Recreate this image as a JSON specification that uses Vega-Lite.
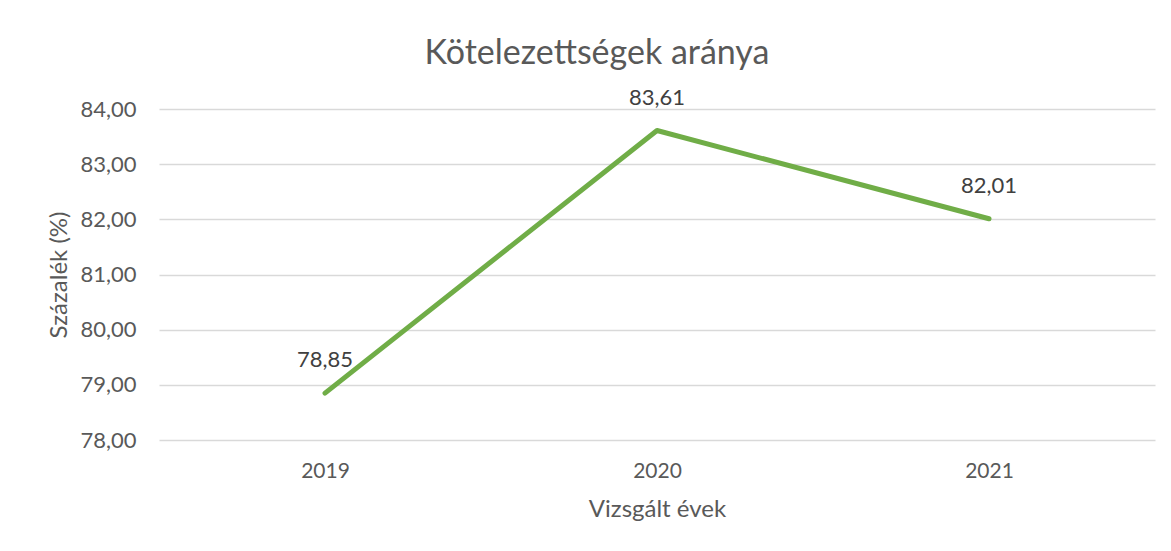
{
  "$schema": "https://vega.github.io/schema/vega-lite/v6.json",
  "autosize": {"type": "none"},
  "width": 996,
  "height": 331,
  "padding": {"left": 159, "top": 109, "right": 16, "bottom": 111},
  "background": "white",
  "config": {
    "locale": {"number": {"decimal": ",", "thousands": " ", "grouping": [3], "currency": ["", " Ft"]}},
    "font": "Lato",
    "view": {"stroke": null}
  },
  "title": {
    "text": "Kötelezettségek aránya",
    "fontSize": 34,
    "fontWeight": "normal",
    "color": "#595959",
    "font": "Lato",
    "anchor": "middle",
    "dx": -60,
    "offset": 16
  },
  "data": {
    "values": [
      {"ev": "2019", "ertek": 78.85},
      {"ev": "2020", "ertek": 83.61},
      {"ev": "2021", "ertek": 82.01}
    ]
  },
  "encoding": {
    "x": {
      "field": "ev",
      "type": "ordinal",
      "scale": {"type": "point", "padding": 0.5},
      "axis": {
        "title": "Vizsgált évek",
        "titleFontSize": 24,
        "titleFontWeight": "normal",
        "titleColor": "#595959",
        "titlePadding": 16,
        "labelFontSize": 21,
        "labelColor": "#595959",
        "labelAngle": 0,
        "labelPadding": 20,
        "domain": false,
        "ticks": false,
        "grid": false
      }
    },
    "y": {
      "field": "ertek",
      "type": "quantitative",
      "scale": {"domain": [78, 84], "nice": false, "zero": false},
      "axis": {
        "title": "Százalék (%)",
        "titleFontSize": 24,
        "titleFontWeight": "normal",
        "titleColor": "#595959",
        "titlePadding": 8,
        "values": [78, 79, 80, 81, 82, 83, 84],
        "format": ".2f",
        "labelFontSize": 22,
        "labelColor": "#595959",
        "labelPadding": 23,
        "domain": false,
        "ticks": false,
        "gridColor": "#d9d9d9",
        "gridWidth": 1.5
      }
    }
  },
  "layer": [
    {
      "mark": {"type": "line", "color": "#70AD47", "strokeWidth": 5, "strokeCap": "round", "strokeJoin": "round"}
    },
    {
      "mark": {"type": "text", "dy": -33, "fontSize": 22, "color": "#404040", "baseline": "middle"},
      "encoding": {"text": {"field": "ertek", "type": "quantitative", "format": ".2f"}}
    }
  ]
}
